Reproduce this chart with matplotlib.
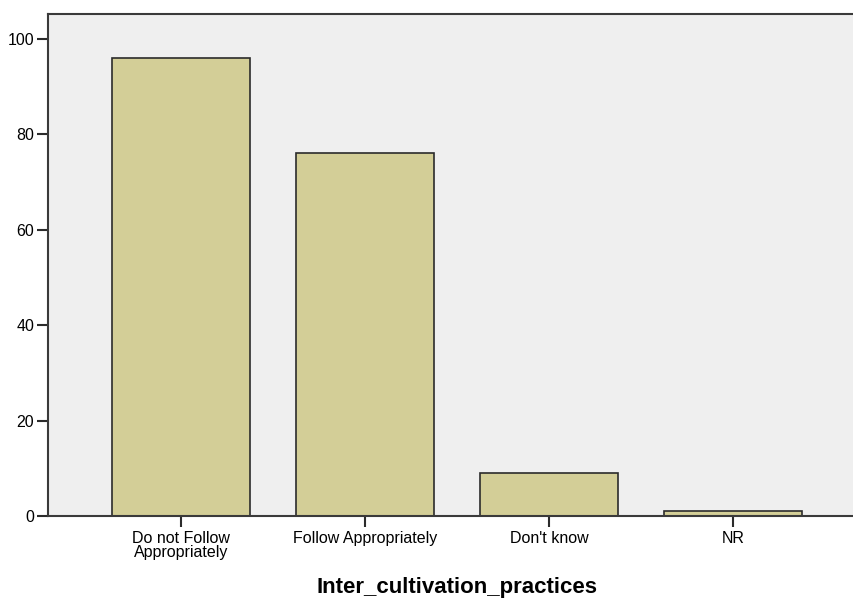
import matplotlib
matplotlib.use('Agg')
import matplotlib.pyplot as plt

categories = ['Do not Follow\nAppropriately', 'Follow Appropriately',
              "Don't know", 'NR']
counts = [96, 76, 9, 1]
y_ticks = [0, 20, 40, 60, 80, 100]

plt.rcParams['font.family'] = ['Liberation Sans', 'DejaVu Sans']

fig = plt.figure(figsize=(8.54, 5.99), dpi=100)
ax = fig.add_axes([0.0562, 0.1386, 0.9438, 0.838])
ax.set_facecolor('#efefef')

positions = list(range(len(categories)))
ax.bar(positions, counts, width=0.75, color='#d3ce97',
       edgecolor='#2b2b2b', linewidth=1.2)

ax.set_xlim(-0.723, 3.658)
ax.set_ylim(0, 105.2)
ax.set_xticks(positions)
ax.set_xticklabels(categories, fontsize=11.5, linespacing=0.9)
ax.set_yticks(y_ticks)
ax.set_yticklabels([str(v) for v in y_ticks], fontsize=11.5)
ax.tick_params(axis='both', direction='out', length=8, width=1.5,
               color='#2b2b2b', pad=2)
ax.tick_params(axis='x', pad=3)

for side in ['left', 'bottom', 'top']:
    ax.spines[side].set_color('#3a3a3a')
    ax.spines[side].set_linewidth(1.5)
ax.spines['right'].set_visible(False)

ax.set_xlabel('Inter_cultivation_practices', fontsize=16,
              fontweight='bold')
ax.xaxis.set_label_coords(0.507, -0.122)

fig.savefig('out.png', dpi=100, facecolor='white')
